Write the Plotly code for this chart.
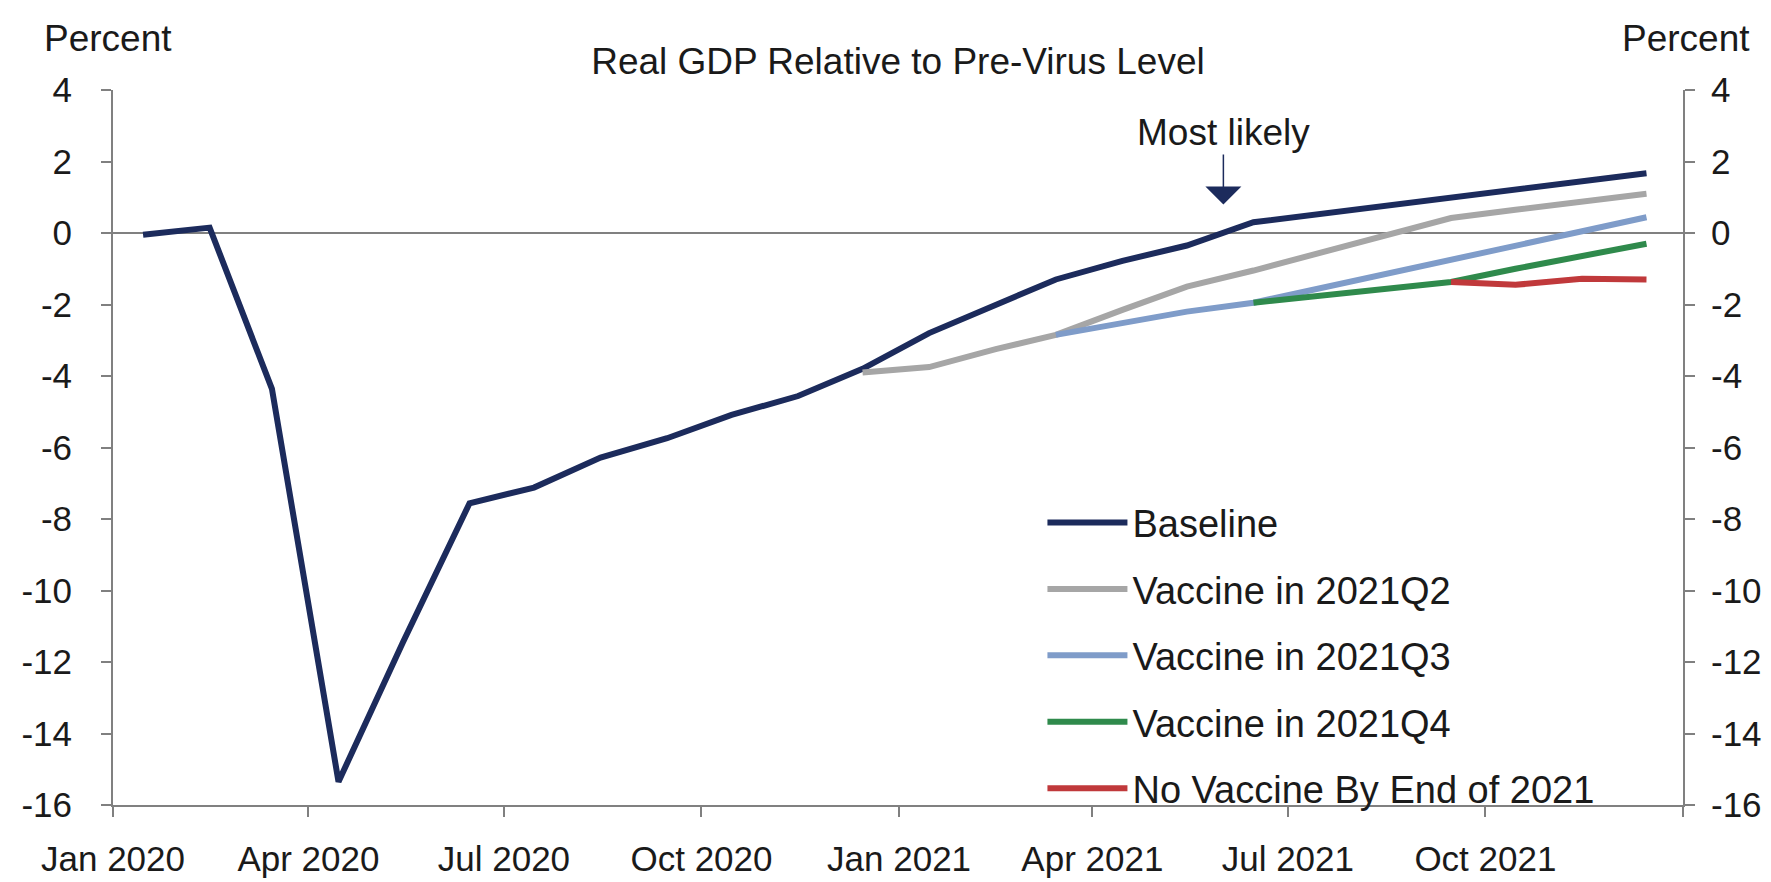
import plotly.graph_objects as go

# ---------------- data ----------------
months = ["2020-01-15", "2020-02-15", "2020-03-15", "2020-04-15", "2020-05-15", "2020-06-15",
          "2020-07-15", "2020-08-15", "2020-09-15", "2020-10-15", "2020-11-15", "2020-12-15",
          "2021-01-15", "2021-02-15", "2021-03-15", "2021-04-15", "2021-05-15", "2021-06-15",
          "2021-07-15", "2021-08-15", "2021-09-15", "2021-10-15", "2021-11-15", "2021-12-15"]

baseline = [-0.05, 0.15, -4.36, -15.35, -11.45, -7.56, -7.12, -6.28, -5.74, -5.09, -4.56, -3.8,
            -2.8, -2.02, -1.3, -0.78, -0.35, 0.3, 0.53, 0.76, 0.99, 1.21, 1.44, 1.67]

q2_months = months[11:]
vaccine_q2 = [-3.9, -3.75, -3.25, -2.85, -2.15, -1.5, -1.05, -0.57, -0.07, 0.42, 0.65, 0.88, 1.1]

q3_months = months[14:]
vaccine_q3 = [-2.85, -2.5, -2.2, -1.95, -1.56, -1.17, -0.78, -0.39, 0.02, 0.44]

q4_months = months[17:]
vaccine_q4 = [-1.95, -1.75, -1.56, -1.37, -1.0, -0.65, -0.3]

nv_months = months[20:]
no_vaccine = [-1.37, -1.45, -1.28, -1.3]

series_names = ["Baseline", "Vaccine in 2021Q2", "Vaccine in 2021Q3",
                "Vaccine in 2021Q4", "No Vaccine By End of 2021"]
series_colors = ["#1c2b5c", "#a6a6a6", "#7f9cc9", "#2f8a4c", "#c0393b"]

x_tickvals = ["2020-01-01", "2020-04-01", "2020-07-01", "2020-10-01",
              "2021-01-01", "2021-04-01", "2021-07-01", "2021-10-01", "2022-01-01"]
x_ticktext = ["Jan 2020", "Apr 2020", "Jul 2020", "Oct 2020",
              "Jan 2021", "Apr 2021", "Jul 2021", "Oct 2021", ""]
y_tickvals = [4, 2, 0, -2, -4, -6, -8, -10, -12, -14, -16]
y_ticktext = ["4", "2", "0", "-2", "-4", "-6", "-8", "-10", "-12", "-14", "-16"]

title_text = "Real GDP Relative to Pre-Virus Level"
axis_title = "Percent"
note_text = "Most likely"
note_x = "2021-06-01"
note_y = 0.8

# ---------------- figure ----------------
FONT = "Liberation Sans, Arial, sans-serif"
FS_TICK = 35
FS_TEXT = 37
FS_LEG = 38
TXT = "#1a1a1a"
AX = "#808080"

fig = go.Figure()
xs = [months, q2_months, q3_months, q4_months, nv_months]
ys = [baseline, vaccine_q2, vaccine_q3, vaccine_q4, no_vaccine]
for i, (name, col, x, y) in enumerate(zip(series_names, series_colors, xs, ys)):
    fig.add_trace(go.Scatter(x=x, y=y, mode="lines", name=name,
                             line=dict(color=col, width=6),
                             legendgroup=f"g{i}"))

# invisible trace to carry the right axis
fig.add_trace(go.Scatter(x=[months[0]], y=[0], yaxis="y2", mode="lines",
                         showlegend=False, hoverinfo="skip",
                         line=dict(color="rgba(0,0,0,0)")))

axis_common = dict(showline=True, linecolor=AX, linewidth=2, ticks="outside",
                   tickcolor=AX, tickwidth=2, ticklen=10, showgrid=False,
                   tickfont=dict(family=FONT, size=FS_TICK, color=TXT))

fig.update_layout(
    width=1771, height=882,
    margin=dict(l=105, r=96, t=82, b=66),
    paper_bgcolor="white", plot_bgcolor="white",
    font=dict(family=FONT, size=FS_TEXT, color=TXT),
    title=dict(text=title_text, x=0.5025, xanchor="center", y=1 - 53 / 882,
               yanchor="middle", font=dict(family=FONT, size=FS_TEXT, color=TXT)),
    xaxis=dict(type="date", range=["2020-01-01", "2022-01-01"],
               tickmode="array", tickvals=x_tickvals, ticktext=x_ticktext,
               ticklabelstandoff=12, **axis_common),
    yaxis=dict(range=[-16, 4], tickmode="array", tickvals=y_tickvals,
               ticktext=y_ticktext,
               zeroline=True, zerolinecolor=AX, zerolinewidth=2,
               ticklabelstandoff=22, **axis_common),
    yaxis2=dict(range=[-16, 4], tickmode="array", tickvals=y_tickvals,
                ticktext=y_ticktext,
                overlaying="y", side="right", zeroline=False,
                ticklabelstandoff=9, **axis_common),
    showlegend=True,
    legend=dict(x=0.592, xanchor="left", y=(816 - 494) / 734, yanchor="top",
                bgcolor="rgba(0,0,0,0)", itemwidth=80, tracegroupgap=14,
                font=dict(family=FONT, size=FS_LEG, color=TXT)),
    annotations=[
        dict(text=axis_title, xref="paper", yref="paper", x=-0.003, y=1 + 53 / 734,
             xanchor="center", yanchor="middle", showarrow=False,
             font=dict(family=FONT, size=FS_TEXT, color=TXT)),
        dict(text=axis_title, xref="paper", yref="paper", x=1.002, y=1 + 53 / 734,
             xanchor="center", yanchor="middle", showarrow=False,
             font=dict(family=FONT, size=FS_TEXT, color=TXT)),
        dict(text=note_text, x=note_x, y=note_y, xref="x", yref="y",
             showarrow=True, ax=0, ay=-72, arrowhead=1, arrowsize=4,
             arrowwidth=1.5, arrowcolor="#1c2b5c",
             font=dict(family=FONT, size=FS_TEXT, color=TXT)),
    ],
)

fig.write_html("out.html")
